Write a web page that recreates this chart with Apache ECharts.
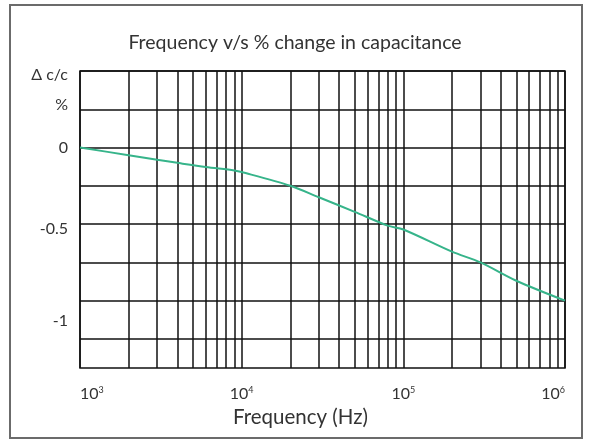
<!DOCTYPE html>
<html>
<head>
<meta charset="utf-8">
<script src="https://cdn.jsdelivr.net/npm/echarts@6/dist/echarts.min.js"></script>
<style>
  html, body { margin: 0; padding: 0; background: #fff; }
  #chart { width: 590px; height: 440px; }
</style>
</head>
<body>
<div id="chart"></div>
<script>
// frequency (Hz) vs change in capacitance (%)
const freqHz = [1e3, 2e3, 3e3, 4e3, 6e3, 9e3, 1e4, 2e4, 3e4, 5e4, 8e4, 1e5, 2e5, 3e5, 5e5, 1e6]
const deltaC = [0, -0.05, -0.08, -0.1, -0.127, -0.15, -0.16, -0.25, -0.325, -0.42, -0.51, -0.535, -0.68, -0.75, -0.87, -1.0]

// grid lines: every integer multiple in each decade
const xGridValues = [
  1e3, 2e3, 3e3, 4e3, 5e3, 6e3, 7e3, 8e3, 9e3,
  1e4, 2e4, 3e4, 4e4, 5e4, 6e4, 7e4, 8e4, 9e4,
  1e5, 2e5, 3e5, 4e5, 5e5, 6e5, 7e5, 8e5, 9e5,
  1e6,
]
const xLabelValues = [1e3, 1e4, 1e5, 1e6]

const yGridValues = [0.5, 0.25, 0, -0.25, -0.5, -0.75, -1, -1.25]
const yLabelValues = [0.5, 0.25, 0, -0.5, -1]
const yLabelTexts = ['Δ c/c', '%', '0', '-0.5', '-1']

const FONT = 'Lato, "Open Sans", sans-serif'
const TEXT = '#333'

const chart = echarts.init(document.getElementById('chart'))

// rich styles nudge the hand-placed labels of the original
const yRich = ['a', 'b', 'c', 'd', 'e']

chart.setOption({
  animation: false,
  title: {
    text: 'Frequency v/s % change in capacitance',
    left: 'center',
    top: 28,
    textStyle: { fontFamily: FONT, fontSize: 19.5, fontWeight: 'normal', color: TEXT },
  },
  graphic: [{
    type: 'rect',
    shape: { x: 10, y: 5, width: 572, height: 433 },
    style: { fill: null, stroke: '#6b6b6b', lineWidth: 2 },
    silent: true,
  }],
  grid: {
    left: 80, right: 25, top: 71, bottom: 72,
    show: true, borderColor: '#111', borderWidth: 1.5,
  },
  xAxis: {
    type: 'log',
    logBase: 10,
    min: 1e3,
    max: 1e6,
    name: 'Frequency (Hz)',
    nameLocation: 'middle',
    nameGap: 36,
    nameTextStyle: { fontFamily: FONT, fontSize: 20.5, color: TEXT, padding: [0, 44, 0, 0] },
    axisLine: { show: false },
    axisTick: { show: false, customValues: xGridValues },
    splitLine: { show: true, lineStyle: { color: '#111', width: 1.5 } },
    axisLabel: {
      customValues: xLabelValues,
      margin: 18,
      alignMinLabel: 'left',
      alignMaxLabel: 'right',
      fontFamily: FONT,
      fontSize: 16,
      color: TEXT,
      formatter: (v) => '10{sup|' + Math.round(Math.log10(v)) + '}',
      rich: {
        sup: { fontFamily: FONT, fontSize: 9, color: TEXT, verticalAlign: 'top', padding: [0, 0, 7, 0] },
      },
    },
  },
  yAxis: {
    type: 'value',
    min: -1.44,
    max: 0.5,
    axisLine: { show: false },
    axisTick: { show: false, customValues: yGridValues },
    splitLine: { show: true, lineStyle: { color: '#111', width: 1.5 } },
    axisLabel: {
      customValues: yLabelValues,
      margin: 12,
      fontFamily: FONT,
      fontSize: 16,
      color: TEXT,
      formatter: (v) => {
        const i = yLabelValues.indexOf(v)
        return i < 0 ? '' : '{' + yRich[i] + '|' + yLabelTexts[i] + '}'
      },
      rich: {
        a: { fontFamily: FONT, fontSize: 16, color: TEXT, padding: [8, 0, 0, 0] },
        b: { fontFamily: FONT, fontSize: 16, color: TEXT, padding: [0, 0, 8, 0] },
        c: { fontFamily: FONT, fontSize: 16, color: TEXT },
        d: { fontFamily: FONT, fontSize: 16, color: TEXT, padding: [9, 0, 0, 0] },
        e: { fontFamily: FONT, fontSize: 16, color: TEXT, padding: [40, 0, 0, 0] },
      },
    },
  },
  series: [{
    type: 'line',
    data: freqHz.map((f, i) => [f, deltaC[i]]),
    showSymbol: false,
    smooth: 0.3,
    lineStyle: { color: '#36b48a', width: 2 },
    z: 5,
  }],
})
</script>
</body>
</html>
